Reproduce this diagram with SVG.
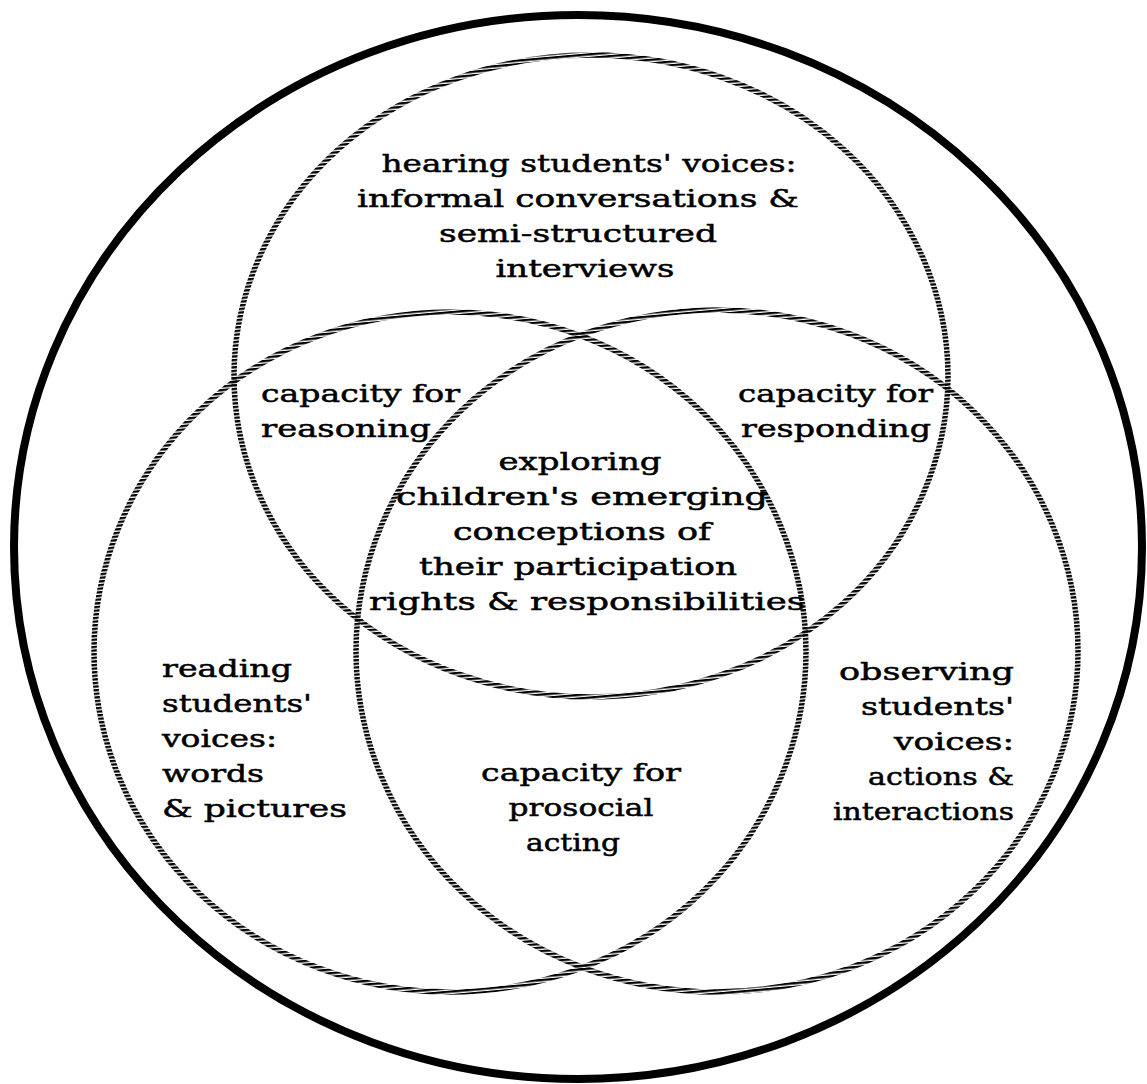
<svg xmlns="http://www.w3.org/2000/svg" width="1147" height="1084" viewBox="0 0 1147 1084">
  <defs>
    <!-- horizontal stripe fill used to give the circle outlines their hatched look -->
    <pattern id="hatch" patternUnits="userSpaceOnUse" width="12" height="3.6" patternTransform="rotate(-5)">
      <rect x="0" y="0" width="12" height="2.3" fill="#000"/>
    </pattern>
  </defs>
  <style>
    .frame { fill: none; stroke: #000; stroke-width: 8; }
    .set { fill: none; stroke: url(#hatch); stroke-width: 5.5; }
    .lbl { font-family: "DejaVu Serif", "Liberation Serif", serif; font-size: 25px; fill: #000; stroke: #000; stroke-width: 0.5; }
    .c { text-anchor: middle; }
    .l { text-anchor: start; }
    .r { text-anchor: end; }
  </style>
  <rect width="1147" height="1084" fill="#fff"/>

  <!-- outlines -->
  <g id="connectors">
    <ellipse id="frame" class="frame" cx="578" cy="547" rx="564" ry="532"/>
    <ellipse id="set-top" class="set" cx="591" cy="376" rx="357" ry="321"/>
    <ellipse id="set-left" class="set" cx="450" cy="652" rx="356" ry="340"/>
    <ellipse id="set-right" class="set" cx="717" cy="651" rx="361" ry="341"/>
  </g>

  <g id="hearing" class="lbl">
    <text class="c" x="589" y="172" textLength="415" lengthAdjust="spacingAndGlyphs">hearing students' voices:</text>
    <text class="c" x="578" y="207" textLength="442" lengthAdjust="spacingAndGlyphs">informal conversations &amp;</text>
    <text class="c" x="578" y="242" textLength="278" lengthAdjust="spacingAndGlyphs">semi-structured</text>
    <text class="c" x="585" y="277" textLength="179" lengthAdjust="spacingAndGlyphs">interviews</text>
  </g>

  <g id="reasoning" class="lbl">
    <text class="l" x="261" y="402" textLength="199" lengthAdjust="spacingAndGlyphs">capacity for</text>
    <text class="l" x="261" y="437" textLength="170" lengthAdjust="spacingAndGlyphs">reasoning</text>
  </g>

  <g id="responding" class="lbl">
    <text class="l" x="738" y="402" textLength="195" lengthAdjust="spacingAndGlyphs">capacity for</text>
    <text class="l" x="741" y="437" textLength="190" lengthAdjust="spacingAndGlyphs">responding</text>
  </g>

  <g id="exploring" class="lbl">
    <text class="c" x="580" y="470" textLength="163" lengthAdjust="spacingAndGlyphs">exploring</text>
    <text class="c" x="582" y="505" textLength="372" lengthAdjust="spacingAndGlyphs">children's emerging</text>
    <text class="c" x="582" y="540" textLength="258" lengthAdjust="spacingAndGlyphs">conceptions of</text>
    <text class="c" x="578" y="575" textLength="318" lengthAdjust="spacingAndGlyphs">their participation</text>
    <text class="c" x="587" y="610" textLength="436" lengthAdjust="spacingAndGlyphs">rights &amp; responsibilities</text>
  </g>

  <g id="reading" class="lbl">
    <text class="l" x="162" y="677" textLength="130" lengthAdjust="spacingAndGlyphs">reading</text>
    <text class="l" x="162" y="712" textLength="150" lengthAdjust="spacingAndGlyphs">students'</text>
    <text class="l" x="162" y="747" textLength="115" lengthAdjust="spacingAndGlyphs">voices:</text>
    <text class="l" x="162" y="782" textLength="102" lengthAdjust="spacingAndGlyphs">words</text>
    <text class="l" x="162" y="817" textLength="185" lengthAdjust="spacingAndGlyphs">&amp; pictures</text>
  </g>

  <g id="prosocial" class="lbl">
    <text class="c" x="581" y="781" textLength="200" lengthAdjust="spacingAndGlyphs">capacity for</text>
    <text class="c" x="581" y="816" textLength="145" lengthAdjust="spacingAndGlyphs">prosocial</text>
    <text class="c" x="573" y="851" textLength="94" lengthAdjust="spacingAndGlyphs">acting</text>
  </g>

  <g id="observing" class="lbl">
    <text class="r" x="1014" y="680" textLength="175" lengthAdjust="spacingAndGlyphs">observing</text>
    <text class="r" x="1014" y="715" textLength="153" lengthAdjust="spacingAndGlyphs">students'</text>
    <text class="r" x="1014" y="750" textLength="120" lengthAdjust="spacingAndGlyphs">voices:</text>
    <text class="r" x="1014" y="785" textLength="146" lengthAdjust="spacingAndGlyphs">actions &amp;</text>
    <text class="r" x="1014" y="820" textLength="181" lengthAdjust="spacingAndGlyphs">interactions</text>
  </g>
</svg>
